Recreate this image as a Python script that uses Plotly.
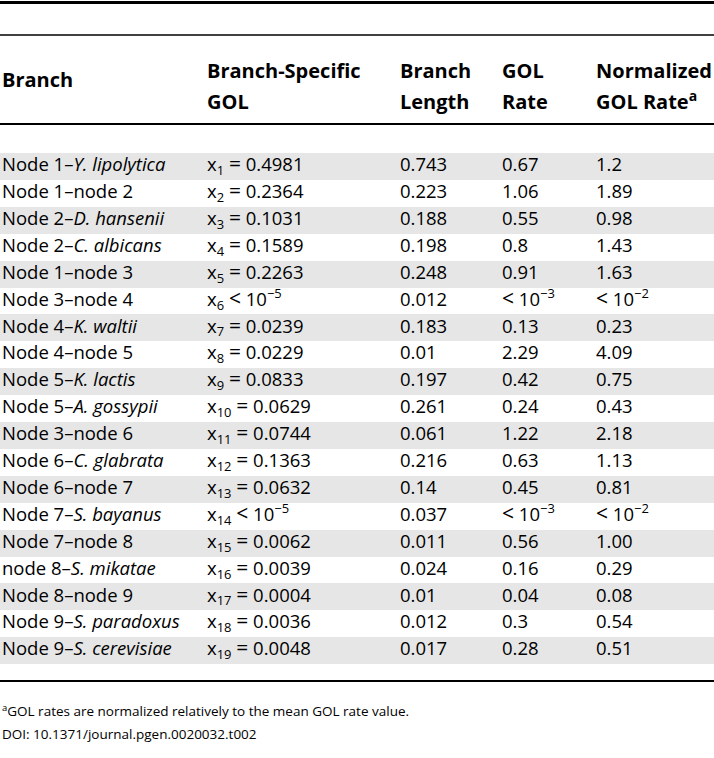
import plotly.graph_objects as go

# ---- data ----
branches = [
    "Node 1–<i>Y. lipolytica</i>", "Node 1–node 2", "Node 2–<i>D. hansenii</i>",
    "Node 2–<i>C. albicans</i>", "Node 1–node 3", "Node 3–node 4",
    "Node 4–<i>K. waltii</i>", "Node 4–node 5", "Node 5–<i>K. lactis</i>",
    "Node 5–<i>A. gossypii</i>", "Node 3–node 6", "Node 6–<i>C. glabrata</i>",
    "Node 6–node 7", "Node 7–<i>S. bayanus</i>", "Node 7–node 8",
    "node 8–<i>S. mikatae</i>", "Node 8–node 9", "Node 9–<i>S. paradoxus</i>",
    "Node 9–<i>S. cerevisiae</i>",
]
gol = ["0.4981", "0.2364", "0.1031", "0.1589", "0.2263", "<10-5", "0.0239",
       "0.0229", "0.0833", "0.0629", "0.0744", "0.1363", "0.0632", "<10-5",
       "0.0062", "0.0039", "0.0004", "0.0036", "0.0048"]
branch_length = ["0.743", "0.223", "0.188", "0.198", "0.248", "0.012", "0.183",
                 "0.01", "0.197", "0.261", "0.061", "0.216", "0.14", "0.037",
                 "0.011", "0.024", "0.01", "0.012", "0.017"]
gol_rate = ["0.67", "1.06", "0.55", "0.8", "0.91", "<10-3", "0.13", "2.29",
            "0.42", "0.24", "1.22", "0.63", "0.45", "<10-3", "0.56", "0.16",
            "0.04", "0.3", "0.28"]
norm_rate = ["1.2", "1.89", "0.98", "1.43", "1.63", "<10-2", "0.23", "4.09",
             "0.75", "0.43", "2.18", "1.13", "0.81", "<10-2", "1.00", "0.29",
             "0.08", "0.54", "0.51"]
header_line1 = ["Branch", "Branch-Specific", "Branch", "GOL", "Normalized"]
header_line2 = ["", "GOL", "Length", "Rate", "GOL Rate<sup>a</sup>"]
footnote = "<sup>a</sup>GOL rates are normalized relatively to the mean GOL rate value."
doi = "DOI: 10.1371/journal.pgen.0020032.t002"

# ---- layout constants ----
W, H = 714, 758
FONT = "Open Sans"
FS = 18.5
HFS = 20
col_x = [2, 207, 400, 502, 596]
row_y0, pitch = 166.5, 26.9
SP = " "
EQ = '<span style="font-size:21px">=</span>'
LT = '<span style="font-size:21px">&lt;</span>'


def fmt_less(v):
    if v.startswith("<10-"):
        return LT + SP + "10<sup>−" + v[4:] + "</sup>"
    return v


def fmt_gol(i, v):
    sub = "x<sub>%d</sub>" % (i + 1)
    if v.startswith("<10-"):
        return sub + SP + LT + SP + "10<sup>−" + v[4:] + "</sup>"
    return sub + SP + EQ + SP + v


n = len(branches)
ys = [row_y0 + i * pitch for i in range(n)]

fig = go.Figure()

# shaded rows (odd rows, 1-indexed)
shade_y = [ys[i] for i in range(n) if i % 2 == 0]
fig.add_trace(go.Bar(
    orientation="h", x=[W] * len(shade_y), y=shade_y, base=0, width=pitch,
    marker=dict(color="#e6e6e6", line=dict(width=0)), hoverinfo="skip",
    showlegend=False))

columns = [
    branches,
    [fmt_gol(i, v) for i, v in enumerate(gol)],
    branch_length,
    [fmt_less(v) for v in gol_rate],
    [fmt_less(v) for v in norm_rate],
]
for cx, col in zip(col_x, columns):
    fig.add_trace(go.Scatter(
        x=[cx] * n, y=ys, text=col, mode="text", textposition="middle right",
        textfont=dict(family=FONT, size=FS, color="black"),
        hoverinfo="skip", showlegend=False))

# headers
fig.add_trace(go.Scatter(
    x=col_x, y=[82, 73, 73, 73, 73], text=["<b>%s</b>" % t for t in header_line1],
    mode="text", textposition="middle right",
    textfont=dict(family=FONT, size=HFS, color="black"),
    hoverinfo="skip", showlegend=False))
fig.add_trace(go.Scatter(
    x=col_x[1:], y=[104] * 4, text=["<b>%s</b>" % t for t in header_line2[1:]],
    mode="text", textposition="middle right",
    textfont=dict(family=FONT, size=HFS, color="black"),
    hoverinfo="skip", showlegend=False))

# footnotes
fig.add_trace(go.Scatter(
    x=[2, 2], y=[713, 736], text=[footnote, doi], mode="text",
    textposition="middle right",
    textfont=dict(family=FONT, size=13.5, color="black"),
    hoverinfo="skip", showlegend=False))

# rules
for yy, wdt in [(2.5, 3), (35, 1.5), (124, 2), (681, 2)]:
    fig.add_shape(type="line", xref="paper", x0=0, x1=1, yref="y", y0=yy, y1=yy,
                  line=dict(color="black", width=wdt))

fig.update_layout(
    width=W, height=H, margin=dict(l=0, r=0, t=0, b=0),
    paper_bgcolor="white", plot_bgcolor="white", bargap=0,
    xaxis=dict(range=[0, W], visible=False, fixedrange=True),
    yaxis=dict(range=[H, 0], visible=False, fixedrange=True),
)
fig.write_html("out.html", config={"displayModeBar": False},
               post_script="document.body.style.margin='0';document.body.style.overflow='hidden';")
